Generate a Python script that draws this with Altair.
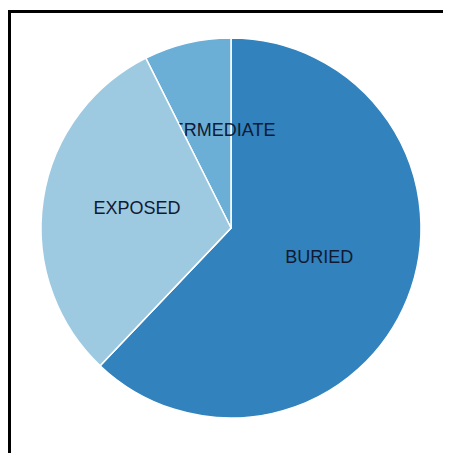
import altair as alt
import pandas as pd

categories = ["BURIED", "EXPOSED", "INTERMEDIATE"]
shares = [62.1, 30.5, 7.4]
colors = ["#3182bd", "#9ecae1", "#6baed6"]
order_idx = [0, 1, 2]

df = pd.DataFrame({"category": categories, "share": shares, "idx": order_idx})

W, H = 435, 443
CX, CY = 223, 218
TEXT_COLOR = "#101a33"

base = alt.Chart(df).encode(
    theta=alt.Theta("share:Q", stack=True),
    order=alt.Order("idx:O"),
)

color_enc = alt.Color(
    "category:N", scale=alt.Scale(domain=categories, range=colors), legend=None
)

arcs = base.mark_arc(outerRadius=190, stroke="white", strokeWidth=1.5).encode(
    color=color_enc, x=alt.value(CX), y=alt.value(CY)
)

text_props = dict(
    radius=95,
    fontSize=18,
    font="Liberation Sans",
    baseline="alphabetic",
    align="center",
    color=TEXT_COLOR,
)

text_inter = base.mark_text(**text_props).encode(
    text="category:N",
    x=alt.value(CX),
    y=alt.value(CY),
    opacity=alt.condition(
        "datum.category == 'INTERMEDIATE'", alt.value(1), alt.value(0)
    ),
)

arcs_exposed = base.mark_arc(outerRadius=190, stroke="white", strokeWidth=1.5).encode(
    color=color_enc,
    x=alt.value(CX),
    y=alt.value(CY),
    opacity=alt.condition("datum.category == 'EXPOSED'", alt.value(1), alt.value(0)),
)

text_rest = base.mark_text(**text_props).encode(
    text="category:N",
    x=alt.value(CX),
    y=alt.value(CY),
    opacity=alt.condition(
        "datum.category != 'INTERMEDIATE'", alt.value(1), alt.value(0)
    ),
)

frame_df = pd.DataFrame({"k": [0]})
frame_left = alt.Chart(frame_df).mark_rule(color="black", strokeWidth=3).encode(
    x=alt.value(1.5), y=alt.value(0), y2=alt.value(H)
)
frame_top = alt.Chart(frame_df).mark_rule(color="black", strokeWidth=3).encode(
    y=alt.value(1.5), x=alt.value(0), x2=alt.value(W)
)

chart = (
    alt.layer(arcs, text_inter, arcs_exposed, text_rest, frame_left, frame_top)
    .properties(
        width=W,
        height=H,
        padding={"left": 0, "top": 2, "right": 0, "bottom": 0},
        autosize="none",
        background="white",
    )
    .configure_view(strokeWidth=0)
)

chart.save("out.html", embed_options={"renderer": "svg", "actions": False})
